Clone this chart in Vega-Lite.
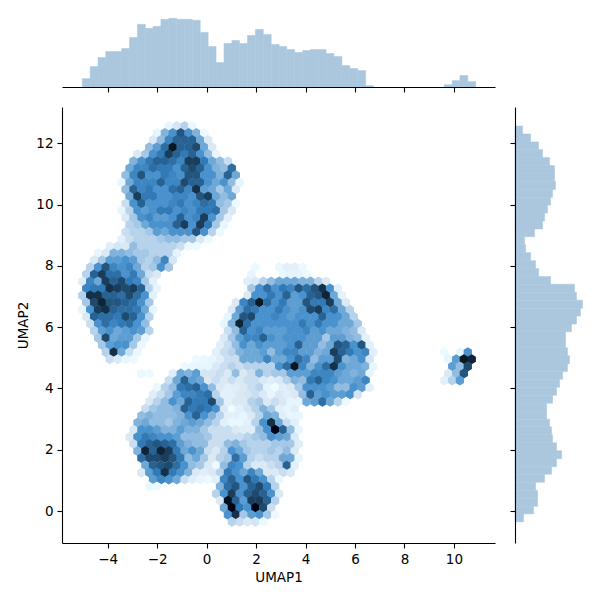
{"$schema":"https://vega.github.io/schema/vega-lite/v6.json","background":"white","padding":{"left":16,"top":15,"right":5,"bottom":5},"bounds":"flush","align":"each","columns":2,"spacing":20,"config":{"view":{"stroke":null},"axis":{"grid":false,"domainColor":"#000000","tickColor":"#000000","domainWidth":1.1,"tickWidth":1.1,"tickSize":5,"labelFont":"DejaVu Sans","labelFontSize":13.5,"labelColor":"#000000","titleFont":"DejaVu Sans","titleFontSize":13.5,"titleFontWeight":"normal","titleColor":"#000000","labelPadding":4,"titlePadding":5}},
"datasets":{"top":[{"x":-5.03,"x2":-4.71,"c":25},{"x":-4.71,"x2":-4.39,"c":61},{"x":-4.39,"x2":-4.08,"c":88},{"x":-4.08,"x2":-3.76,"c":106},{"x":-3.76,"x2":-3.44,"c":106},{"x":-3.44,"x2":-3.12,"c":115},{"x":-3.12,"x2":-2.8,"c":148},{"x":-2.8,"x2":-2.48,"c":187},{"x":-2.48,"x2":-2.17,"c":175},{"x":-2.17,"x2":-1.85,"c":181},{"x":-1.85,"x2":-1.53,"c":202},{"x":-1.53,"x2":-1.21,"c":205},{"x":-1.21,"x2":-0.89,"c":202},{"x":-0.89,"x2":-0.58,"c":202},{"x":-0.58,"x2":-0.26,"c":199},{"x":-0.26,"x2":0.06,"c":163},{"x":0.06,"x2":0.38,"c":121},{"x":0.38,"x2":0.7,"c":73},{"x":0.7,"x2":1.02,"c":130},{"x":1.02,"x2":1.33,"c":139},{"x":1.33,"x2":1.65,"c":130},{"x":1.65,"x2":1.97,"c":154},{"x":1.97,"x2":2.29,"c":172},{"x":2.29,"x2":2.61,"c":157},{"x":2.61,"x2":2.93,"c":127},{"x":2.93,"x2":3.24,"c":121},{"x":3.24,"x2":3.56,"c":112},{"x":3.56,"x2":3.88,"c":103},{"x":3.88,"x2":4.2,"c":109},{"x":4.2,"x2":4.52,"c":112},{"x":4.52,"x2":4.83,"c":112},{"x":4.83,"x2":5.15,"c":100},{"x":5.15,"x2":5.47,"c":91},{"x":5.47,"x2":5.79,"c":64},{"x":5.79,"x2":6.11,"c":55},{"x":6.11,"x2":6.43,"c":49},{"x":6.43,"x2":6.74,"c":4},{"x":9.61,"x2":9.93,"c":7},{"x":9.93,"x2":10.24,"c":19},{"x":10.24,"x2":10.56,"c":34},{"x":10.56,"x2":10.88,"c":16}],
"right":[{"y":12.56,"y2":12.3,"c":23},{"y":12.3,"y2":12.04,"c":47},{"y":12.04,"y2":11.79,"c":71},{"y":11.79,"y2":11.53,"c":83},{"y":11.53,"y2":11.27,"c":104},{"y":11.27,"y2":11.01,"c":119},{"y":11.01,"y2":10.75,"c":119},{"y":10.75,"y2":10.49,"c":122},{"y":10.49,"y2":10.24,"c":113},{"y":10.24,"y2":9.98,"c":107},{"y":9.98,"y2":9.72,"c":98},{"y":9.72,"y2":9.46,"c":89},{"y":9.46,"y2":9.2,"c":83},{"y":9.2,"y2":8.95,"c":59},{"y":8.95,"y2":8.69,"c":29},{"y":8.69,"y2":8.43,"c":32},{"y":8.43,"y2":8.17,"c":47},{"y":8.17,"y2":7.91,"c":62},{"y":7.91,"y2":7.65,"c":71},{"y":7.65,"y2":7.4,"c":107},{"y":7.4,"y2":7.14,"c":179},{"y":7.14,"y2":6.88,"c":185},{"y":6.88,"y2":6.62,"c":203},{"y":6.62,"y2":6.36,"c":197},{"y":6.36,"y2":6.1,"c":185},{"y":6.1,"y2":5.85,"c":170},{"y":5.85,"y2":5.59,"c":152},{"y":5.59,"y2":5.33,"c":152},{"y":5.33,"y2":5.07,"c":158},{"y":5.07,"y2":4.81,"c":164},{"y":4.81,"y2":4.55,"c":158},{"y":4.55,"y2":4.3,"c":143},{"y":4.3,"y2":4.04,"c":134},{"y":4.04,"y2":3.78,"c":125},{"y":3.78,"y2":3.52,"c":113},{"y":3.52,"y2":3.26,"c":95},{"y":3.26,"y2":3,"c":95},{"y":3,"y2":2.75,"c":104},{"y":2.75,"y2":2.49,"c":110},{"y":2.49,"y2":2.23,"c":113},{"y":2.23,"y2":1.97,"c":125},{"y":1.97,"y2":1.71,"c":140},{"y":1.71,"y2":1.45,"c":125},{"y":1.45,"y2":1.2,"c":110},{"y":1.2,"y2":0.94,"c":89},{"y":0.94,"y2":0.68,"c":62},{"y":0.68,"y2":0.42,"c":68},{"y":0.42,"y2":0.16,"c":68},{"y":0.16,"y2":-0.09,"c":56},{"y":-0.09,"y2":-0.35,"c":26}],
"hex":[
{"x":-1.53,"y":12.56,"c":0.5},{"x":-1.21,"y":12.56,"c":1.2},{"x":-0.89,"y":12.56,"c":2},{"x":-0.58,"y":12.56,"c":0.4},
{"x":-2.01,"y":12.33,"c":0.5},{"x":-1.69,"y":12.33,"c":3.5},{"x":-1.37,"y":12.33,"c":5},{"x":-1.05,"y":12.33,"c":7.5},{"x":-0.73,"y":12.33,"c":5},{"x":-0.42,"y":12.33,"c":3.5},{"x":-0.1,"y":12.33,"c":0.3},
{"x":-2.17,"y":12.1,"c":1},{"x":-1.85,"y":12.1,"c":3},{"x":-1.53,"y":12.1,"c":5.5},{"x":-1.21,"y":12.1,"c":7},{"x":-0.89,"y":12.1,"c":7},{"x":-0.58,"y":12.1,"c":7},{"x":-0.26,"y":12.1,"c":4},{"x":0.06,"y":12.1,"c":1},
{"x":-2.32,"y":11.87,"c":3},{"x":-2.01,"y":11.87,"c":4.5},{"x":-1.69,"y":11.87,"c":6.5},{"x":-1.37,"y":11.87,"c":10},{"x":-1.05,"y":11.87,"c":7},{"x":-0.73,"y":11.87,"c":7},{"x":-0.42,"y":11.87,"c":8},{"x":-0.1,"y":11.87,"c":4},{"x":0.22,"y":11.87,"c":1},
{"x":-2.8,"y":11.64,"c":1},{"x":-2.48,"y":11.64,"c":2.5},{"x":-2.17,"y":11.64,"c":5},{"x":-1.85,"y":11.64,"c":6},{"x":-1.53,"y":11.64,"c":8.5},{"x":-1.21,"y":11.64,"c":7},{"x":-0.89,"y":11.64,"c":6},{"x":-0.58,"y":11.64,"c":7},{"x":-0.26,"y":11.64,"c":5},{"x":0.06,"y":11.64,"c":3},{"x":0.38,"y":11.64,"c":0.5},
{"x":-2.96,"y":11.41,"c":3.5},{"x":-2.64,"y":11.41,"c":5},{"x":-2.32,"y":11.41,"c":6},{"x":-2.01,"y":11.41,"c":7},{"x":-1.69,"y":11.41,"c":7},{"x":-1.37,"y":11.41,"c":6.5},{"x":-1.05,"y":11.41,"c":5.5},{"x":-0.73,"y":11.41,"c":8.5},{"x":-0.42,"y":11.41,"c":8.5},{"x":-0.1,"y":11.41,"c":6},{"x":0.22,"y":11.41,"c":4},{"x":0.54,"y":11.41,"c":3},{"x":0.86,"y":11.41,"c":1.5},
{"x":-3.12,"y":11.18,"c":4},{"x":-2.8,"y":11.18,"c":5.5},{"x":-2.48,"y":11.18,"c":5.5},{"x":-2.17,"y":11.18,"c":6.5},{"x":-1.85,"y":11.18,"c":6},{"x":-1.53,"y":11.18,"c":6},{"x":-1.21,"y":11.18,"c":5},{"x":-0.89,"y":11.18,"c":7},{"x":-0.58,"y":11.18,"c":8},{"x":-0.26,"y":11.18,"c":7},{"x":0.06,"y":11.18,"c":5},{"x":0.38,"y":11.18,"c":3.5},{"x":0.7,"y":11.18,"c":3},{"x":1.02,"y":11.18,"c":6.5},
{"x":-3.28,"y":10.95,"c":3},{"x":-2.96,"y":10.95,"c":5.5},{"x":-2.64,"y":10.95,"c":7.5},{"x":-2.32,"y":10.95,"c":5},{"x":-2.01,"y":10.95,"c":5},{"x":-1.69,"y":10.95,"c":6},{"x":-1.37,"y":10.95,"c":5.5},{"x":-1.05,"y":10.95,"c":5},{"x":-0.73,"y":10.95,"c":7.5},{"x":-0.42,"y":10.95,"c":7.5},{"x":-0.1,"y":10.95,"c":5},{"x":0.22,"y":10.95,"c":5},{"x":0.54,"y":10.95,"c":3.5},{"x":0.86,"y":10.95,"c":7},{"x":1.18,"y":10.95,"c":4},
{"x":-3.44,"y":10.72,"c":0.5},{"x":-3.12,"y":10.72,"c":4},{"x":-2.8,"y":10.72,"c":5.5},{"x":-2.48,"y":10.72,"c":5.5},{"x":-2.17,"y":10.72,"c":5.5},{"x":-1.85,"y":10.72,"c":7},{"x":-1.53,"y":10.72,"c":5.5},{"x":-1.21,"y":10.72,"c":5.5},{"x":-0.89,"y":10.72,"c":8},{"x":-0.58,"y":10.72,"c":7},{"x":-0.26,"y":10.72,"c":7},{"x":0.06,"y":10.72,"c":5},{"x":0.38,"y":10.72,"c":4},{"x":0.7,"y":10.72,"c":5},{"x":1.02,"y":10.72,"c":3},{"x":1.33,"y":10.72,"c":0.5},
{"x":-3.28,"y":10.49,"c":3},{"x":-2.96,"y":10.49,"c":7},{"x":-2.64,"y":10.49,"c":5.5},{"x":-2.32,"y":10.49,"c":6},{"x":-2.01,"y":10.49,"c":5},{"x":-1.69,"y":10.49,"c":5},{"x":-1.37,"y":10.49,"c":6.5},{"x":-1.05,"y":10.49,"c":7},{"x":-0.73,"y":10.49,"c":5.5},{"x":-0.42,"y":10.49,"c":9},{"x":-0.1,"y":10.49,"c":4.5},{"x":0.22,"y":10.49,"c":4},{"x":0.54,"y":10.49,"c":2.5},{"x":0.86,"y":10.49,"c":4},{"x":1.18,"y":10.49,"c":1},
{"x":-3.12,"y":10.26,"c":4},{"x":-2.8,"y":10.26,"c":8.5},{"x":-2.48,"y":10.26,"c":6},{"x":-2.17,"y":10.26,"c":6},{"x":-1.85,"y":10.26,"c":5},{"x":-1.53,"y":10.26,"c":5},{"x":-1.21,"y":10.26,"c":5.5},{"x":-0.89,"y":10.26,"c":5.5},{"x":-0.58,"y":10.26,"c":5},{"x":-0.26,"y":10.26,"c":7.5},{"x":0.06,"y":10.26,"c":8.5},{"x":0.38,"y":10.26,"c":4},{"x":0.7,"y":10.26,"c":3},{"x":1.02,"y":10.26,"c":4},
{"x":-3.28,"y":10.03,"c":1.5},{"x":-2.96,"y":10.03,"c":5},{"x":-2.64,"y":10.03,"c":7},{"x":-2.32,"y":10.03,"c":5},{"x":-2.01,"y":10.03,"c":5},{"x":-1.69,"y":10.03,"c":5},{"x":-1.37,"y":10.03,"c":5.5},{"x":-1.05,"y":10.03,"c":6},{"x":-0.73,"y":10.03,"c":5},{"x":-0.42,"y":10.03,"c":5.5},{"x":-0.1,"y":10.03,"c":6.5},{"x":0.22,"y":10.03,"c":6},{"x":0.54,"y":10.03,"c":3},{"x":0.86,"y":10.03,"c":2.5},{"x":1.18,"y":10.03,"c":0.3},
{"x":-3.44,"y":9.8,"c":0.5},{"x":-3.12,"y":9.8,"c":2},{"x":-2.8,"y":9.8,"c":5},{"x":-2.48,"y":9.8,"c":4.5},{"x":-2.17,"y":9.8,"c":5},{"x":-1.85,"y":9.8,"c":6},{"x":-1.53,"y":9.8,"c":6},{"x":-1.21,"y":9.8,"c":5},{"x":-0.89,"y":9.8,"c":5.5},{"x":-0.58,"y":9.8,"c":5},{"x":-0.26,"y":9.8,"c":6},{"x":0.06,"y":9.8,"c":6},{"x":0.38,"y":9.8,"c":6.5},{"x":0.7,"y":9.8,"c":2.5},{"x":1.02,"y":9.8,"c":1},
{"x":-3.28,"y":9.57,"c":1},{"x":-2.96,"y":9.57,"c":2.5},{"x":-2.64,"y":9.57,"c":5},{"x":-2.32,"y":9.57,"c":5.5},{"x":-2.01,"y":9.57,"c":4.5},{"x":-1.69,"y":9.57,"c":4.5},{"x":-1.37,"y":9.57,"c":5},{"x":-1.05,"y":9.57,"c":7},{"x":-0.73,"y":9.57,"c":5},{"x":-0.42,"y":9.57,"c":5.5},{"x":-0.1,"y":9.57,"c":8.5},{"x":0.22,"y":9.57,"c":5},{"x":0.54,"y":9.57,"c":2.5},{"x":0.86,"y":9.57,"c":0.7},
{"x":-3.12,"y":9.34,"c":2},{"x":-2.8,"y":9.34,"c":2.5},{"x":-2.48,"y":9.34,"c":4},{"x":-2.17,"y":9.34,"c":5},{"x":-1.85,"y":9.34,"c":5},{"x":-1.53,"y":9.34,"c":5},{"x":-1.21,"y":9.34,"c":7},{"x":-0.89,"y":9.34,"c":8.5},{"x":-0.58,"y":9.34,"c":5},{"x":-0.26,"y":9.34,"c":8.5},{"x":0.06,"y":9.34,"c":6},{"x":0.38,"y":9.34,"c":2.5},{"x":0.7,"y":9.34,"c":0.5},
{"x":-3.28,"y":9.1,"c":1.5},{"x":-2.96,"y":9.1,"c":2},{"x":-2.64,"y":9.1,"c":2},{"x":-2.32,"y":9.1,"c":2.5},{"x":-2.01,"y":9.1,"c":4.5},{"x":-1.69,"y":9.1,"c":4},{"x":-1.37,"y":9.1,"c":5},{"x":-1.05,"y":9.1,"c":5},{"x":-0.73,"y":9.1,"c":5},{"x":-0.42,"y":9.1,"c":7.5},{"x":-0.1,"y":9.1,"c":5},{"x":0.22,"y":9.1,"c":2},{"x":0.54,"y":9.1,"c":0.3},
{"x":-3.44,"y":8.87,"c":0.7},{"x":-3.12,"y":8.87,"c":1.5},{"x":-2.8,"y":8.87,"c":2},{"x":-2.48,"y":8.87,"c":2},{"x":-2.17,"y":8.87,"c":2},{"x":-1.85,"y":8.87,"c":2.5},{"x":-1.53,"y":8.87,"c":3},{"x":-1.21,"y":8.87,"c":3},{"x":-0.89,"y":8.87,"c":2.5},{"x":-0.58,"y":8.87,"c":2.5},{"x":-0.26,"y":8.87,"c":1},{"x":0.06,"y":8.87,"c":0.3},
{"x":-3.92,"y":8.64,"c":0.8},{"x":-3.6,"y":8.64,"c":1.2},{"x":-3.28,"y":8.64,"c":1},{"x":-2.96,"y":8.64,"c":3},{"x":-2.64,"y":8.64,"c":2},{"x":-2.32,"y":8.64,"c":2},{"x":-2.01,"y":8.64,"c":2},{"x":-1.69,"y":8.64,"c":2},{"x":-1.37,"y":8.64,"c":2},{"x":-1.05,"y":8.64,"c":1.5},{"x":-0.73,"y":8.64,"c":0.3},{"x":-0.42,"y":8.64,"c":0.3},
{"x":-4.39,"y":8.41,"c":0.5},{"x":-4.08,"y":8.41,"c":1},{"x":-3.76,"y":8.41,"c":3.5},{"x":-3.44,"y":8.41,"c":3.5},{"x":-3.12,"y":8.41,"c":3},{"x":-2.8,"y":8.41,"c":2.5},{"x":-2.48,"y":8.41,"c":2.5},{"x":-2.17,"y":8.41,"c":2},{"x":-1.85,"y":8.41,"c":2},{"x":-1.53,"y":8.41,"c":2},{"x":-1.21,"y":8.41,"c":0.6},
{"x":-4.55,"y":8.18,"c":1},{"x":-4.23,"y":8.18,"c":2.5},{"x":-3.92,"y":8.18,"c":4.5},{"x":-3.6,"y":8.18,"c":4.5},{"x":-3.28,"y":8.18,"c":5},{"x":-2.96,"y":8.18,"c":4.5},{"x":-2.64,"y":8.18,"c":2.5},{"x":-2.32,"y":8.18,"c":2},{"x":-2.01,"y":8.18,"c":3},{"x":-1.69,"y":8.18,"c":5.5},{"x":-1.37,"y":8.18,"c":1.2},
{"x":-4.71,"y":7.95,"c":2},{"x":-4.39,"y":7.95,"c":5},{"x":-4.08,"y":7.95,"c":7.5},{"x":-3.76,"y":7.95,"c":5.5},{"x":-3.44,"y":7.95,"c":5},{"x":-3.12,"y":7.95,"c":5.5},{"x":-2.8,"y":7.95,"c":4},{"x":-2.48,"y":7.95,"c":2},{"x":-2.17,"y":7.95,"c":2.5},{"x":-1.85,"y":7.95,"c":5},{"x":-1.53,"y":7.95,"c":2.5},
{"x":-4.87,"y":7.72,"c":2},{"x":-4.55,"y":7.72,"c":7},{"x":-4.23,"y":7.72,"c":8.5},{"x":-3.92,"y":7.72,"c":6.5},{"x":-3.6,"y":7.72,"c":6.5},{"x":-3.28,"y":7.72,"c":5},{"x":-2.96,"y":7.72,"c":6},{"x":-2.64,"y":7.72,"c":4},{"x":-2.32,"y":7.72,"c":1.5},{"x":-2.01,"y":7.72,"c":1},
{"x":-5.03,"y":7.49,"c":0.8},{"x":-4.71,"y":7.49,"c":5.5},{"x":-4.39,"y":7.49,"c":4},{"x":-4.08,"y":7.49,"c":8.5},{"x":-3.76,"y":7.49,"c":7},{"x":-3.44,"y":7.49,"c":8},{"x":-3.12,"y":7.49,"c":6},{"x":-2.8,"y":7.49,"c":5.5},{"x":-2.48,"y":7.49,"c":2.5},{"x":-2.17,"y":7.49,"c":0.7},
{"x":-4.87,"y":7.26,"c":5.5},{"x":-4.55,"y":7.26,"c":6},{"x":-4.23,"y":7.26,"c":6},{"x":-3.92,"y":7.26,"c":9},{"x":-3.6,"y":7.26,"c":8.5},{"x":-3.28,"y":7.26,"c":8},{"x":-2.96,"y":7.26,"c":8.5},{"x":-2.64,"y":7.26,"c":7},{"x":-2.32,"y":7.26,"c":2},{"x":-2.01,"y":7.26,"c":0.5},
{"x":-5.03,"y":7.03,"c":2},{"x":-4.71,"y":7.03,"c":9},{"x":-4.39,"y":7.03,"c":9},{"x":-4.08,"y":7.03,"c":7},{"x":-3.76,"y":7.03,"c":7},{"x":-3.44,"y":7.03,"c":6.5},{"x":-3.12,"y":7.03,"c":8},{"x":-2.8,"y":7.03,"c":6.5},{"x":-2.48,"y":7.03,"c":5},{"x":-2.17,"y":7.03,"c":0.7},
{"x":-4.87,"y":6.8,"c":2.5},{"x":-4.55,"y":6.8,"c":8},{"x":-4.23,"y":6.8,"c":9.5},{"x":-3.92,"y":6.8,"c":7.5},{"x":-3.6,"y":6.8,"c":7.5},{"x":-3.28,"y":6.8,"c":7},{"x":-2.96,"y":6.8,"c":6.5},{"x":-2.64,"y":6.8,"c":5},{"x":-2.32,"y":6.8,"c":2.5},
{"x":-5.03,"y":6.57,"c":0.5},{"x":-4.71,"y":6.57,"c":5},{"x":-4.39,"y":6.57,"c":8.5},{"x":-4.08,"y":6.57,"c":9},{"x":-3.76,"y":6.57,"c":7},{"x":-3.44,"y":6.57,"c":6.5},{"x":-3.12,"y":6.57,"c":6.5},{"x":-2.8,"y":6.57,"c":6},{"x":-2.48,"y":6.57,"c":4},{"x":-2.17,"y":6.57,"c":0.5},
{"x":-4.87,"y":6.34,"c":1},{"x":-4.55,"y":6.34,"c":7},{"x":-4.23,"y":6.34,"c":6.5},{"x":-3.92,"y":6.34,"c":6.5},{"x":-3.6,"y":6.34,"c":6},{"x":-3.28,"y":6.34,"c":8},{"x":-2.96,"y":6.34,"c":7},{"x":-2.64,"y":6.34,"c":5},{"x":-2.32,"y":6.34,"c":2},
{"x":-4.71,"y":6.11,"c":1.5},{"x":-4.39,"y":6.11,"c":5},{"x":-4.08,"y":6.11,"c":6.5},{"x":-3.76,"y":6.11,"c":5.5},{"x":-3.44,"y":6.11,"c":6},{"x":-3.12,"y":6.11,"c":6.5},{"x":-2.8,"y":6.11,"c":5},{"x":-2.48,"y":6.11,"c":3},
{"x":-4.55,"y":5.88,"c":2},{"x":-4.23,"y":5.88,"c":4.5},{"x":-3.92,"y":5.88,"c":5},{"x":-3.6,"y":5.88,"c":4},{"x":-3.28,"y":5.88,"c":4.5},{"x":-2.96,"y":5.88,"c":5},{"x":-2.64,"y":5.88,"c":4.5},{"x":-2.32,"y":5.88,"c":2},
{"x":-4.39,"y":5.65,"c":2.5},{"x":-4.08,"y":5.65,"c":8},{"x":-3.76,"y":5.65,"c":4},{"x":-3.44,"y":5.65,"c":4.5},{"x":-3.12,"y":5.65,"c":4.5},{"x":-2.8,"y":5.65,"c":2.5},{"x":-2.48,"y":5.65,"c":0.5},
{"x":-4.23,"y":5.42,"c":2.5},{"x":-3.92,"y":5.42,"c":4.5},{"x":-3.6,"y":5.42,"c":5},{"x":-3.28,"y":5.42,"c":5},{"x":-2.96,"y":5.42,"c":2.5},{"x":-2.64,"y":5.42,"c":0.4},
{"x":-4.08,"y":5.18,"c":2},{"x":-3.76,"y":5.18,"c":9},{"x":-3.44,"y":5.18,"c":4},{"x":-3.12,"y":5.18,"c":1.5},{"x":-2.8,"y":5.18,"c":0.4},
{"x":-3.92,"y":4.95,"c":1.5},{"x":-3.6,"y":4.95,"c":1},{"x":-3.28,"y":4.95,"c":0.5},{"x":-2.96,"y":4.95,"c":0.3},{"x":-0.42,"y":4.95,"c":0.3},{"x":-0.1,"y":4.95,"c":0.4},
{"x":-0.89,"y":4.72,"c":0.3},{"x":-0.58,"y":4.72,"c":0.4},{"x":-0.26,"y":4.72,"c":0.5},{"x":0.06,"y":4.72,"c":0.5},
{"x":-2.64,"y":4.49,"c":0.4},{"x":-2.32,"y":4.49,"c":0.3},{"x":-1.37,"y":4.49,"c":0.8},{"x":-1.05,"y":4.49,"c":4},{"x":-0.73,"y":4.49,"c":3.5},{"x":-0.42,"y":4.49,"c":4.5},{"x":-0.1,"y":4.49,"c":1.2},{"x":0.22,"y":4.49,"c":1},
{"x":-1.53,"y":4.26,"c":1.5},{"x":-1.21,"y":4.26,"c":4},{"x":-0.89,"y":4.26,"c":7},{"x":-0.58,"y":4.26,"c":4.5},{"x":-0.26,"y":4.26,"c":4},{"x":0.06,"y":4.26,"c":1},
{"x":-2.01,"y":4.03,"c":0.4},{"x":-1.69,"y":4.03,"c":2},{"x":-1.37,"y":4.03,"c":3},{"x":-1.05,"y":4.03,"c":6},{"x":-0.73,"y":4.03,"c":6.5},{"x":-0.42,"y":4.03,"c":7},{"x":-0.1,"y":4.03,"c":5},{"x":0.22,"y":4.03,"c":3},
{"x":-2.17,"y":3.8,"c":0.8},{"x":-1.85,"y":3.8,"c":1.5},{"x":-1.53,"y":3.8,"c":2.5},{"x":-1.21,"y":3.8,"c":4.5},{"x":-0.89,"y":3.8,"c":5.5},{"x":-0.58,"y":3.8,"c":5.5},{"x":-0.26,"y":3.8,"c":6},{"x":0.06,"y":3.8,"c":6.5},
{"x":-2.32,"y":3.57,"c":1},{"x":-2.01,"y":3.57,"c":2},{"x":-1.69,"y":3.57,"c":3},{"x":-1.37,"y":3.57,"c":5},{"x":-1.05,"y":3.57,"c":4},{"x":-0.73,"y":3.57,"c":7},{"x":-0.42,"y":3.57,"c":6},{"x":-0.1,"y":3.57,"c":6},{"x":0.22,"y":3.57,"c":8},
{"x":-2.48,"y":3.34,"c":1.5},{"x":-2.17,"y":3.34,"c":2.5},{"x":-1.85,"y":3.34,"c":3},{"x":-1.53,"y":3.34,"c":3},{"x":-1.21,"y":3.34,"c":3.5},{"x":-0.89,"y":3.34,"c":7},{"x":-0.58,"y":3.34,"c":6},{"x":-0.26,"y":3.34,"c":6.5},{"x":0.06,"y":3.34,"c":6},{"x":0.38,"y":3.34,"c":5},{"x":0.7,"y":3.34,"c":1},{"x":1.02,"y":3.34,"c":0.2},{"x":1.33,"y":3.34,"c":0.7},{"x":1.65,"y":3.34,"c":1.2},{"x":1.97,"y":3.34,"c":2},{"x":2.29,"y":3.34,"c":3.5},{"x":2.61,"y":3.34,"c":2.5},{"x":2.93,"y":3.34,"c":0.7},{"x":3.24,"y":3.34,"c":0.5},{"x":3.56,"y":3.34,"c":0.8},
{"x":-2.64,"y":3.11,"c":3},{"x":-2.32,"y":3.11,"c":3.5},{"x":-2.01,"y":3.11,"c":3},{"x":-1.69,"y":3.11,"c":3},{"x":-1.37,"y":3.11,"c":3},{"x":-1.05,"y":3.11,"c":3.5},{"x":-0.73,"y":3.11,"c":5},{"x":-0.42,"y":3.11,"c":7},{"x":-0.1,"y":3.11,"c":5},{"x":0.22,"y":3.11,"c":3.5},{"x":0.54,"y":3.11,"c":2},{"x":0.86,"y":3.11,"c":0.7},{"x":1.18,"y":3.11,"c":0.7},{"x":1.49,"y":3.11,"c":0.5},{"x":1.81,"y":3.11,"c":1},{"x":2.13,"y":3.11,"c":2},{"x":2.45,"y":3.11,"c":4},{"x":2.77,"y":3.11,"c":3.5},{"x":3.09,"y":3.11,"c":0.8},{"x":3.4,"y":3.11,"c":0.5},{"x":3.72,"y":3.11,"c":0.5},
{"x":-2.8,"y":2.88,"c":3.5},{"x":-2.48,"y":2.88,"c":4},{"x":-2.17,"y":2.88,"c":3},{"x":-1.85,"y":2.88,"c":3},{"x":-1.53,"y":2.88,"c":2.5},{"x":-1.21,"y":2.88,"c":3.5},{"x":-0.89,"y":2.88,"c":4},{"x":-0.58,"y":2.88,"c":4.5},{"x":-0.26,"y":2.88,"c":4},{"x":0.06,"y":2.88,"c":3},{"x":0.38,"y":2.88,"c":2},{"x":0.7,"y":2.88,"c":0.7},{"x":1.02,"y":2.88,"c":0.4},{"x":1.33,"y":2.88,"c":0.4},{"x":1.65,"y":2.88,"c":0.7},{"x":1.97,"y":2.88,"c":2},{"x":2.29,"y":2.88,"c":5},{"x":2.61,"y":2.88,"c":9},{"x":2.93,"y":2.88,"c":4},{"x":3.24,"y":2.88,"c":1.5},{"x":3.56,"y":2.88,"c":0.7},
{"x":-2.96,"y":2.65,"c":1},{"x":-2.64,"y":2.65,"c":5},{"x":-2.32,"y":2.65,"c":5},{"x":-2.01,"y":2.65,"c":4.5},{"x":-1.69,"y":2.65,"c":3.5},{"x":-1.37,"y":2.65,"c":3.5},{"x":-1.05,"y":2.65,"c":4.5},{"x":-0.73,"y":2.65,"c":3.5},{"x":-0.42,"y":2.65,"c":3.5},{"x":-0.1,"y":2.65,"c":2.5},{"x":0.22,"y":2.65,"c":1.5},{"x":0.54,"y":2.65,"c":1.5},{"x":0.86,"y":2.65,"c":1.5},{"x":1.18,"y":2.65,"c":1},{"x":1.49,"y":2.65,"c":0.8},{"x":1.81,"y":2.65,"c":0.8},{"x":2.13,"y":2.65,"c":3},{"x":2.45,"y":2.65,"c":5},{"x":2.77,"y":2.65,"c":11},{"x":3.09,"y":2.65,"c":7},{"x":3.4,"y":2.65,"c":3},{"x":3.72,"y":2.65,"c":0.5},
{"x":-3.12,"y":2.42,"c":1},{"x":-2.8,"y":2.42,"c":5},{"x":-2.48,"y":2.42,"c":6},{"x":-2.17,"y":2.42,"c":5.5},{"x":-1.85,"y":2.42,"c":5},{"x":-1.53,"y":2.42,"c":5},{"x":-1.21,"y":2.42,"c":4.5},{"x":-0.89,"y":2.42,"c":3},{"x":-0.58,"y":2.42,"c":3},{"x":-0.26,"y":2.42,"c":3},{"x":0.06,"y":2.42,"c":2.5},{"x":0.38,"y":2.42,"c":1.5},{"x":0.7,"y":2.42,"c":1.5},{"x":1.02,"y":2.42,"c":1.5},{"x":1.33,"y":2.42,"c":1.5},{"x":1.65,"y":2.42,"c":2},{"x":1.97,"y":2.42,"c":2.5},{"x":2.29,"y":2.42,"c":3},{"x":2.61,"y":2.42,"c":5},{"x":2.93,"y":2.42,"c":4.5},{"x":3.24,"y":2.42,"c":4},{"x":3.56,"y":2.42,"c":1},
{"x":-2.96,"y":2.19,"c":1.5},{"x":-2.64,"y":2.19,"c":6},{"x":-2.32,"y":2.19,"c":7},{"x":-2.01,"y":2.19,"c":7.5},{"x":-1.69,"y":2.19,"c":7},{"x":-1.37,"y":2.19,"c":6.5},{"x":-1.05,"y":2.19,"c":4.5},{"x":-0.73,"y":2.19,"c":3.5},{"x":-0.42,"y":2.19,"c":3},{"x":-0.1,"y":2.19,"c":3},{"x":0.22,"y":2.19,"c":1.5},{"x":0.54,"y":2.19,"c":1.5},{"x":0.86,"y":2.19,"c":3},{"x":1.18,"y":2.19,"c":3.5},{"x":1.49,"y":2.19,"c":2.5},{"x":1.81,"y":2.19,"c":2},{"x":2.13,"y":2.19,"c":2},{"x":2.45,"y":2.19,"c":2},{"x":2.77,"y":2.19,"c":2.5},{"x":3.09,"y":2.19,"c":2.5},{"x":3.4,"y":2.19,"c":2.5},{"x":3.72,"y":2.19,"c":0.8},
{"x":-2.8,"y":1.96,"c":3.5},{"x":-2.48,"y":1.96,"c":9.5},{"x":-2.17,"y":1.96,"c":7},{"x":-1.85,"y":1.96,"c":9.5},{"x":-1.53,"y":1.96,"c":8.5},{"x":-1.21,"y":1.96,"c":6},{"x":-0.89,"y":1.96,"c":4},{"x":-0.58,"y":1.96,"c":5},{"x":-0.26,"y":1.96,"c":4},{"x":0.06,"y":1.96,"c":1.5},{"x":0.38,"y":1.96,"c":1},{"x":0.7,"y":1.96,"c":2},{"x":1.02,"y":1.96,"c":5},{"x":1.33,"y":1.96,"c":4},{"x":1.65,"y":1.96,"c":2.5},{"x":1.97,"y":1.96,"c":2},{"x":2.29,"y":1.96,"c":2},{"x":2.61,"y":1.96,"c":2.5},{"x":2.93,"y":1.96,"c":2},{"x":3.24,"y":1.96,"c":3},{"x":3.56,"y":1.96,"c":1},
{"x":-2.64,"y":1.73,"c":6.5},{"x":-2.32,"y":1.73,"c":8},{"x":-2.01,"y":1.73,"c":8},{"x":-1.69,"y":1.73,"c":8.5},{"x":-1.37,"y":1.73,"c":7.5},{"x":-1.05,"y":1.73,"c":6},{"x":-0.73,"y":1.73,"c":3},{"x":-0.42,"y":1.73,"c":4},{"x":-0.1,"y":1.73,"c":2.5},{"x":0.22,"y":1.73,"c":1},{"x":0.54,"y":1.73,"c":2},{"x":0.86,"y":1.73,"c":2.5},{"x":1.18,"y":1.73,"c":6.5},{"x":1.49,"y":1.73,"c":4.5},{"x":1.81,"y":1.73,"c":2},{"x":2.13,"y":1.73,"c":1.5},{"x":2.45,"y":1.73,"c":2},{"x":2.77,"y":1.73,"c":2},{"x":3.09,"y":1.73,"c":4},{"x":3.4,"y":1.73,"c":4},{"x":3.72,"y":1.73,"c":0.5},
{"x":-2.48,"y":1.49,"c":4},{"x":-2.17,"y":1.49,"c":7},{"x":-1.85,"y":1.49,"c":7.5},{"x":-1.53,"y":1.49,"c":8},{"x":-1.21,"y":1.49,"c":6.5},{"x":-0.89,"y":1.49,"c":5},{"x":-0.58,"y":1.49,"c":3},{"x":-0.26,"y":1.49,"c":2.5},{"x":0.06,"y":1.49,"c":1},{"x":0.38,"y":1.49,"c":0.3},{"x":0.7,"y":1.49,"c":3},{"x":1.02,"y":1.49,"c":5.5},{"x":1.33,"y":1.49,"c":5},{"x":1.65,"y":1.49,"c":2},{"x":1.97,"y":1.49,"c":1},{"x":2.29,"y":1.49,"c":1},{"x":2.61,"y":1.49,"c":1.5},{"x":2.93,"y":1.49,"c":2},{"x":3.24,"y":1.49,"c":7},{"x":3.56,"y":1.49,"c":0.7},
{"x":-2.64,"y":1.26,"c":1},{"x":-2.32,"y":1.26,"c":4.5},{"x":-2.01,"y":1.26,"c":6},{"x":-1.69,"y":1.26,"c":9},{"x":-1.37,"y":1.26,"c":6},{"x":-1.05,"y":1.26,"c":5},{"x":-0.73,"y":1.26,"c":3.5},{"x":-0.42,"y":1.26,"c":1},{"x":-0.1,"y":1.26,"c":0.8},{"x":0.22,"y":1.26,"c":1},{"x":0.54,"y":1.26,"c":2},{"x":0.86,"y":1.26,"c":6},{"x":1.18,"y":1.26,"c":5},{"x":1.49,"y":1.26,"c":4},{"x":1.81,"y":1.26,"c":5.5},{"x":2.13,"y":1.26,"c":4},{"x":2.45,"y":1.26,"c":1},{"x":2.77,"y":1.26,"c":1},{"x":3.09,"y":1.26,"c":1.5},{"x":3.4,"y":1.26,"c":1},
{"x":-2.17,"y":1.03,"c":4.5},{"x":-1.85,"y":1.03,"c":5.5},{"x":-1.53,"y":1.03,"c":5},{"x":-1.21,"y":1.03,"c":4},{"x":-0.89,"y":1.03,"c":1.5},{"x":-0.58,"y":1.03,"c":0.8},{"x":-0.26,"y":1.03,"c":0.5},{"x":0.06,"y":1.03,"c":0.3},{"x":0.38,"y":1.03,"c":0.7},{"x":0.7,"y":1.03,"c":5.5},{"x":1.02,"y":1.03,"c":7},{"x":1.33,"y":1.03,"c":5},{"x":1.65,"y":1.03,"c":7.5},{"x":1.97,"y":1.03,"c":6},{"x":2.29,"y":1.03,"c":5},{"x":2.61,"y":1.03,"c":2},{"x":2.93,"y":1.03,"c":0.4},
{"x":-2.32,"y":0.8,"c":0.4},{"x":-2.01,"y":0.8,"c":0.3},{"x":0.54,"y":0.8,"c":3.5},{"x":0.86,"y":0.8,"c":6.5},{"x":1.18,"y":0.8,"c":7.5},{"x":1.49,"y":0.8,"c":5},{"x":1.81,"y":0.8,"c":7},{"x":2.13,"y":0.8,"c":8},{"x":2.45,"y":0.8,"c":6},{"x":2.77,"y":0.8,"c":2},
{"x":0.38,"y":0.57,"c":2},{"x":0.7,"y":0.57,"c":5},{"x":1.02,"y":0.57,"c":8.5},{"x":1.33,"y":0.57,"c":5},{"x":1.65,"y":0.57,"c":7},{"x":1.97,"y":0.57,"c":8},{"x":2.29,"y":0.57,"c":7},{"x":2.61,"y":0.57,"c":5},{"x":2.93,"y":0.57,"c":1},
{"x":0.54,"y":0.34,"c":1},{"x":0.86,"y":0.34,"c":10.5},{"x":1.18,"y":0.34,"c":7},{"x":1.49,"y":0.34,"c":4.5},{"x":1.81,"y":0.34,"c":8.5},{"x":2.13,"y":0.34,"c":8.5},{"x":2.45,"y":0.34,"c":7},{"x":2.77,"y":0.34,"c":2},
{"x":0.7,"y":0.11,"c":4},{"x":1.02,"y":0.11,"c":11},{"x":1.33,"y":0.11,"c":6},{"x":1.65,"y":0.11,"c":5},{"x":1.97,"y":0.11,"c":11},{"x":2.29,"y":0.11,"c":8},{"x":2.61,"y":0.11,"c":1.5},
{"x":0.86,"y":-0.12,"c":5},{"x":1.18,"y":-0.12,"c":9},{"x":1.49,"y":-0.12,"c":2.5},{"x":1.81,"y":-0.12,"c":4.5},{"x":2.13,"y":-0.12,"c":5},{"x":2.45,"y":-0.12,"c":2.5},{"x":2.77,"y":-0.12,"c":0.3},
{"x":1.02,"y":-0.35,"c":2},{"x":1.33,"y":-0.35,"c":1.5},{"x":1.65,"y":-0.35,"c":1},{"x":1.97,"y":-0.35,"c":1.2},{"x":2.29,"y":-0.35,"c":0.3},
{"x":1.97,"y":7.95,"c":0.3},{"x":2.93,"y":7.95,"c":0.4},{"x":3.24,"y":7.95,"c":0.7},{"x":3.56,"y":7.95,"c":0.7},{"x":3.88,"y":7.95,"c":0.3},
{"x":1.81,"y":7.72,"c":0.5},{"x":3.09,"y":7.72,"c":0.4},{"x":3.4,"y":7.72,"c":0.6},{"x":3.72,"y":7.72,"c":0.6},{"x":4.04,"y":7.72,"c":0.3},
{"x":1.65,"y":7.49,"c":0.8},{"x":1.97,"y":7.49,"c":1},{"x":2.29,"y":7.49,"c":2},{"x":2.61,"y":7.49,"c":3},{"x":2.93,"y":7.49,"c":4},{"x":3.24,"y":7.49,"c":4},{"x":3.56,"y":7.49,"c":4},{"x":3.88,"y":7.49,"c":3.5},{"x":4.2,"y":7.49,"c":3.5},{"x":4.52,"y":7.49,"c":2},{"x":4.83,"y":7.49,"c":1},
{"x":1.81,"y":7.26,"c":2.5},{"x":2.13,"y":7.26,"c":5},{"x":2.45,"y":7.26,"c":6.5},{"x":2.77,"y":7.26,"c":5},{"x":3.09,"y":7.26,"c":6},{"x":3.4,"y":7.26,"c":5.5},{"x":3.72,"y":7.26,"c":7.5},{"x":4.04,"y":7.26,"c":6.5},{"x":4.36,"y":7.26,"c":7.5},{"x":4.68,"y":7.26,"c":9},{"x":4.99,"y":7.26,"c":5},{"x":5.31,"y":7.26,"c":0.7},
{"x":1.65,"y":7.03,"c":1},{"x":1.97,"y":7.03,"c":5},{"x":2.29,"y":7.03,"c":5},{"x":2.61,"y":7.03,"c":6},{"x":2.93,"y":7.03,"c":5},{"x":3.24,"y":7.03,"c":7},{"x":3.56,"y":7.03,"c":4.5},{"x":3.88,"y":7.03,"c":5},{"x":4.2,"y":7.03,"c":7},{"x":4.52,"y":7.03,"c":7.5},{"x":4.83,"y":7.03,"c":9.5},{"x":5.15,"y":7.03,"c":4},{"x":5.47,"y":7.03,"c":0.6},
{"x":1.18,"y":6.8,"c":1},{"x":1.49,"y":6.8,"c":5.5},{"x":1.81,"y":6.8,"c":7},{"x":2.13,"y":6.8,"c":10},{"x":2.45,"y":6.8,"c":6.5},{"x":2.77,"y":6.8,"c":5},{"x":3.09,"y":6.8,"c":6},{"x":3.4,"y":6.8,"c":4.5},{"x":3.72,"y":6.8,"c":4.5},{"x":4.04,"y":6.8,"c":7.5},{"x":4.36,"y":6.8,"c":6},{"x":4.68,"y":6.8,"c":6},{"x":4.99,"y":6.8,"c":8.5},{"x":5.31,"y":6.8,"c":4},{"x":5.63,"y":6.8,"c":1},
{"x":1.02,"y":6.57,"c":1},{"x":1.33,"y":6.57,"c":4.5},{"x":1.65,"y":6.57,"c":6.5},{"x":1.97,"y":6.57,"c":6},{"x":2.29,"y":6.57,"c":5},{"x":2.61,"y":6.57,"c":5},{"x":2.93,"y":6.57,"c":6},{"x":3.24,"y":6.57,"c":5},{"x":3.56,"y":6.57,"c":4.5},{"x":3.88,"y":6.57,"c":5},{"x":4.2,"y":6.57,"c":8},{"x":4.52,"y":6.57,"c":8.5},{"x":4.83,"y":6.57,"c":5.5},{"x":5.15,"y":6.57,"c":6.5},{"x":5.47,"y":6.57,"c":4},{"x":5.79,"y":6.57,"c":2},
{"x":0.86,"y":6.34,"c":0.5},{"x":1.18,"y":6.34,"c":4},{"x":1.49,"y":6.34,"c":7.5},{"x":1.81,"y":6.34,"c":8},{"x":2.13,"y":6.34,"c":5},{"x":2.45,"y":6.34,"c":5},{"x":2.77,"y":6.34,"c":5.5},{"x":3.09,"y":6.34,"c":5},{"x":3.4,"y":6.34,"c":4.5},{"x":3.72,"y":6.34,"c":5},{"x":4.04,"y":6.34,"c":5},{"x":4.36,"y":6.34,"c":5},{"x":4.68,"y":6.34,"c":7},{"x":4.99,"y":6.34,"c":5},{"x":5.31,"y":6.34,"c":5},{"x":5.63,"y":6.34,"c":4},{"x":5.95,"y":6.34,"c":2},
{"x":0.7,"y":6.11,"c":0.5},{"x":1.02,"y":6.11,"c":3.5},{"x":1.33,"y":6.11,"c":9.5},{"x":1.65,"y":6.11,"c":6.5},{"x":1.97,"y":6.11,"c":5},{"x":2.29,"y":6.11,"c":5},{"x":2.61,"y":6.11,"c":5},{"x":2.93,"y":6.11,"c":5},{"x":3.24,"y":6.11,"c":5},{"x":3.56,"y":6.11,"c":5},{"x":3.88,"y":6.11,"c":6},{"x":4.2,"y":6.11,"c":5},{"x":4.52,"y":6.11,"c":6},{"x":4.83,"y":6.11,"c":5},{"x":5.15,"y":6.11,"c":5},{"x":5.47,"y":6.11,"c":4},{"x":5.79,"y":6.11,"c":4},{"x":6.11,"y":6.11,"c":2.5},
{"x":0.86,"y":5.88,"c":1.5},{"x":1.18,"y":5.88,"c":3},{"x":1.49,"y":5.88,"c":7},{"x":1.81,"y":5.88,"c":5},{"x":2.13,"y":5.88,"c":5.5},{"x":2.45,"y":5.88,"c":4.5},{"x":2.77,"y":5.88,"c":4.5},{"x":3.09,"y":5.88,"c":4.5},{"x":3.4,"y":5.88,"c":5},{"x":3.72,"y":5.88,"c":5},{"x":4.04,"y":5.88,"c":5.5},{"x":4.36,"y":5.88,"c":4.5},{"x":4.68,"y":5.88,"c":5},{"x":4.99,"y":5.88,"c":4},{"x":5.31,"y":5.88,"c":4},{"x":5.63,"y":5.88,"c":3.5},{"x":5.95,"y":5.88,"c":3},{"x":6.27,"y":5.88,"c":1},
{"x":0.7,"y":5.65,"c":1},{"x":1.02,"y":5.65,"c":2.5},{"x":1.33,"y":5.65,"c":4.5},{"x":1.65,"y":5.65,"c":5.5},{"x":1.97,"y":5.65,"c":5.5},{"x":2.29,"y":5.65,"c":7},{"x":2.61,"y":5.65,"c":5},{"x":2.93,"y":5.65,"c":4.5},{"x":3.24,"y":5.65,"c":5},{"x":3.56,"y":5.65,"c":5},{"x":3.88,"y":5.65,"c":5},{"x":4.2,"y":5.65,"c":4.5},{"x":4.52,"y":5.65,"c":4.5},{"x":4.83,"y":5.65,"c":2.5},{"x":5.15,"y":5.65,"c":4.5},{"x":5.47,"y":5.65,"c":4.5},{"x":5.79,"y":5.65,"c":3.5},{"x":6.11,"y":5.65,"c":3},{"x":6.43,"y":5.65,"c":0.7},
{"x":0.54,"y":5.42,"c":0.8},{"x":0.86,"y":5.42,"c":1.5},{"x":1.18,"y":5.42,"c":3},{"x":1.49,"y":5.42,"c":5},{"x":1.81,"y":5.42,"c":4},{"x":2.13,"y":5.42,"c":5},{"x":2.45,"y":5.42,"c":4.5},{"x":2.77,"y":5.42,"c":4.5},{"x":3.09,"y":5.42,"c":4.5},{"x":3.4,"y":5.42,"c":5},{"x":3.72,"y":5.42,"c":7},{"x":4.04,"y":5.42,"c":4.5},{"x":4.36,"y":5.42,"c":4.5},{"x":4.68,"y":5.42,"c":3},{"x":4.99,"y":5.42,"c":4},{"x":5.31,"y":5.42,"c":7.5},{"x":5.63,"y":5.42,"c":7},{"x":5.95,"y":5.42,"c":5},{"x":6.27,"y":5.42,"c":7.5},{"x":6.59,"y":5.42,"c":0.7},
{"x":0.38,"y":5.18,"c":0.7},{"x":0.7,"y":5.18,"c":1.5},{"x":1.02,"y":5.18,"c":2},{"x":1.33,"y":5.18,"c":3.5},{"x":1.65,"y":5.18,"c":4},{"x":1.97,"y":5.18,"c":4},{"x":2.29,"y":5.18,"c":4.5},{"x":2.61,"y":5.18,"c":3},{"x":2.93,"y":5.18,"c":4.5},{"x":3.24,"y":5.18,"c":5.5},{"x":3.56,"y":5.18,"c":5.5},{"x":3.88,"y":5.18,"c":4.5},{"x":4.2,"y":5.18,"c":4.5},{"x":4.52,"y":5.18,"c":3.5},{"x":4.83,"y":5.18,"c":4},{"x":5.15,"y":5.18,"c":8.5},{"x":5.47,"y":5.18,"c":7},{"x":5.79,"y":5.18,"c":6},{"x":6.11,"y":5.18,"c":5},{"x":6.43,"y":5.18,"c":5.5},{"x":6.74,"y":5.18,"c":0.7},
{"x":0.22,"y":4.95,"c":0.5},{"x":0.54,"y":4.95,"c":0.8},{"x":0.86,"y":4.95,"c":1.5},{"x":1.18,"y":4.95,"c":1.5},{"x":1.49,"y":4.95,"c":4},{"x":1.81,"y":4.95,"c":4},{"x":2.13,"y":4.95,"c":4},{"x":2.45,"y":4.95,"c":5.5},{"x":2.77,"y":4.95,"c":4},{"x":3.09,"y":4.95,"c":4},{"x":3.4,"y":4.95,"c":5},{"x":3.72,"y":4.95,"c":6.5},{"x":4.04,"y":4.95,"c":5.5},{"x":4.36,"y":4.95,"c":3},{"x":4.68,"y":4.95,"c":4.5},{"x":4.99,"y":4.95,"c":4.5},{"x":5.31,"y":4.95,"c":8},{"x":5.63,"y":4.95,"c":3.5},{"x":5.95,"y":4.95,"c":4},{"x":6.27,"y":4.95,"c":5},{"x":6.59,"y":4.95,"c":1.2},
{"x":0.38,"y":4.72,"c":1},{"x":0.7,"y":4.72,"c":1.5},{"x":1.02,"y":4.72,"c":2},{"x":1.33,"y":4.72,"c":1.5},{"x":1.65,"y":4.72,"c":2},{"x":1.97,"y":4.72,"c":2},{"x":2.29,"y":4.72,"c":2},{"x":2.61,"y":4.72,"c":2},{"x":2.93,"y":4.72,"c":5},{"x":3.24,"y":4.72,"c":6.5},{"x":3.56,"y":4.72,"c":10},{"x":3.88,"y":4.72,"c":5.5},{"x":4.2,"y":4.72,"c":3.5},{"x":4.52,"y":4.72,"c":5},{"x":4.83,"y":4.72,"c":6.5},{"x":5.15,"y":4.72,"c":9},{"x":5.47,"y":4.72,"c":5},{"x":5.79,"y":4.72,"c":4},{"x":6.11,"y":4.72,"c":4},{"x":6.43,"y":4.72,"c":3.5},{"x":6.74,"y":4.72,"c":0.5},
{"x":0.22,"y":4.49,"c":1.2},{"x":0.54,"y":4.49,"c":1.5},{"x":0.86,"y":4.49,"c":1},{"x":1.18,"y":4.49,"c":3},{"x":1.49,"y":4.49,"c":1},{"x":1.81,"y":4.49,"c":1.5},{"x":2.13,"y":4.49,"c":3.5},{"x":2.45,"y":4.49,"c":2},{"x":2.77,"y":4.49,"c":2.5},{"x":3.09,"y":4.49,"c":2.5},{"x":3.4,"y":4.49,"c":4.5},{"x":3.72,"y":4.49,"c":4.5},{"x":4.04,"y":4.49,"c":4.5},{"x":4.36,"y":4.49,"c":5.5},{"x":4.68,"y":4.49,"c":5.5},{"x":4.99,"y":4.49,"c":5.5},{"x":5.31,"y":4.49,"c":4.5},{"x":5.63,"y":4.49,"c":4},{"x":5.95,"y":4.49,"c":3.5},{"x":6.27,"y":4.49,"c":4},{"x":6.59,"y":4.49,"c":0.5},
{"x":0.38,"y":4.26,"c":1.5},{"x":0.7,"y":4.26,"c":1},{"x":1.02,"y":4.26,"c":1.5},{"x":1.33,"y":4.26,"c":1},{"x":1.65,"y":4.26,"c":1.5},{"x":1.97,"y":4.26,"c":1.5},{"x":2.29,"y":4.26,"c":1},{"x":2.61,"y":4.26,"c":0.8},{"x":2.93,"y":4.26,"c":1},{"x":3.24,"y":4.26,"c":2},{"x":3.56,"y":4.26,"c":3.5},{"x":3.88,"y":4.26,"c":3},{"x":4.2,"y":4.26,"c":6},{"x":4.52,"y":4.26,"c":7},{"x":4.83,"y":4.26,"c":5.5},{"x":5.15,"y":4.26,"c":5},{"x":5.47,"y":4.26,"c":4},{"x":5.79,"y":4.26,"c":4},{"x":6.11,"y":4.26,"c":4.5},{"x":6.43,"y":4.26,"c":5.5},
{"x":0.54,"y":4.03,"c":1},{"x":0.86,"y":4.03,"c":0.7},{"x":1.18,"y":4.03,"c":0.8},{"x":1.49,"y":4.03,"c":1},{"x":1.81,"y":4.03,"c":1.5},{"x":2.13,"y":4.03,"c":2},{"x":2.45,"y":4.03,"c":0.5},{"x":2.77,"y":4.03,"c":0.2},{"x":3.09,"y":4.03,"c":0.8},{"x":3.4,"y":4.03,"c":1},{"x":3.72,"y":4.03,"c":2.5},{"x":4.04,"y":4.03,"c":5},{"x":4.36,"y":4.03,"c":5},{"x":4.68,"y":4.03,"c":5},{"x":4.99,"y":4.03,"c":4.5},{"x":5.31,"y":4.03,"c":3},{"x":5.63,"y":4.03,"c":3},{"x":5.95,"y":4.03,"c":5},{"x":6.27,"y":4.03,"c":4.5},{"x":6.59,"y":4.03,"c":0.7},
{"x":0.38,"y":3.8,"c":2},{"x":0.7,"y":3.8,"c":0.7},{"x":1.02,"y":3.8,"c":0.7},{"x":1.33,"y":3.8,"c":1},{"x":1.65,"y":3.8,"c":1.2},{"x":1.97,"y":3.8,"c":1.5},{"x":2.29,"y":3.8,"c":1},{"x":2.61,"y":3.8,"c":0.5},{"x":2.93,"y":3.8,"c":1},{"x":3.24,"y":3.8,"c":0.8},{"x":3.56,"y":3.8,"c":1},{"x":3.88,"y":3.8,"c":3},{"x":4.2,"y":3.8,"c":7},{"x":4.52,"y":3.8,"c":4.5},{"x":4.83,"y":3.8,"c":5},{"x":5.15,"y":3.8,"c":4.5},{"x":5.47,"y":3.8,"c":4.5},{"x":5.79,"y":3.8,"c":5},{"x":6.11,"y":3.8,"c":1.2},
{"x":0.54,"y":3.57,"c":2.5},{"x":0.86,"y":3.57,"c":0.7},{"x":1.18,"y":3.57,"c":1},{"x":1.49,"y":3.57,"c":1},{"x":1.81,"y":3.57,"c":2},{"x":2.13,"y":3.57,"c":2.5},{"x":2.45,"y":3.57,"c":1},{"x":2.77,"y":3.57,"c":1.5},{"x":3.09,"y":3.57,"c":1},{"x":3.4,"y":3.57,"c":0.5},{"x":3.72,"y":3.57,"c":0.5},{"x":4.04,"y":3.57,"c":4},{"x":4.36,"y":3.57,"c":4.5},{"x":4.68,"y":3.57,"c":6.5},{"x":4.99,"y":3.57,"c":4},{"x":5.31,"y":3.57,"c":2},{"x":5.63,"y":3.57,"c":0.3},
{"x":9.61,"y":5.18,"c":0.3},{"x":10.24,"y":5.18,"c":0.5},{"x":10.56,"y":5.18,"c":5},
{"x":9.77,"y":4.95,"c":0.5},{"x":10.09,"y":4.95,"c":4.5},{"x":10.4,"y":4.95,"c":10},{"x":10.72,"y":4.95,"c":9.5},
{"x":9.93,"y":4.72,"c":4.5},{"x":10.24,"y":4.72,"c":3},{"x":10.56,"y":4.72,"c":8},
{"x":9.77,"y":4.49,"c":1},{"x":10.09,"y":4.49,"c":3},{"x":10.4,"y":4.49,"c":7.5},
{"x":9.61,"y":4.26,"c":0.7},{"x":9.93,"y":4.26,"c":2},{"x":10.24,"y":4.26,"c":4.5}
]},
"concat":[
{"width":433,"height":72,"data":{"name":"top"},"mark":{"type":"bar","color":"#abc7de","stroke":"#abc7de","strokeWidth":0.5},"encoding":{"x":{"field":"x","type":"quantitative","scale":{"domain":[-5.85,11.66],"nice":false,"zero":false},"axis":{"values":[-4,-2,0,2,4,6,8,10],"labels":false,"title":null,"zindex":1}},"x2":{"field":"x2"},"y":{"field":"c","type":"quantitative","scale":{"domain":[0,214.8],"nice":false},"axis":null},"y2":{"datum":0}}},
{"width":71,"height":72,"data":{"values":[{"t":""}]},"mark":{"type":"text","opacity":0},"encoding":{"text":{"field":"t"}}},
{"width":433,"height":436,"data":{"name":"hex"},"mark":{"type":"point","shape":"M0,-1L0.83,-0.5L0.83,0.5L0,1L-0.83,0.5L-0.83,-0.5Z","filled":true,"size":100,"opacity":1,"strokeWidth":0},"encoding":{"x":{"field":"x","type":"quantitative","scale":{"domain":[-5.85,11.66],"nice":false,"zero":false},"axis":{"values":[-4,-2,0,2,4,6,8,10],"title":"UMAP1"}},"y":{"field":"y","type":"quantitative","scale":{"domain":[-1.04,13.18],"nice":false,"zero":false},"axis":{"values":[0,2,4,6,8,10,12],"title":"UMAP2"}},"color":{"field":"c","type":"quantitative","legend":null,"scale":{"domain":[0,1,2,3,4,5,6,7,8,9,10,11],"range":["#ffffff","#dbe9f5","#b6d3eb","#92bde1","#6da8d7","#4992cd","#327ab6","#286292","#1e4a6d","#143149","#0a1824","#000000"]}}}},
{"width":71,"height":436,"data":{"name":"right"},"mark":{"type":"bar","color":"#abc7de","stroke":"#abc7de","strokeWidth":0.5},"encoding":{"y":{"field":"y","type":"quantitative","scale":{"domain":[-1.04,13.18],"nice":false,"zero":false},"axis":{"values":[0,2,4,6,8,10,12],"labels":false,"title":null,"zindex":1}},"y2":{"field":"y2"},"x":{"field":"c","type":"quantitative","scale":{"domain":[0,213.6],"nice":false},"axis":null},"x2":{"datum":0}}}
]}
